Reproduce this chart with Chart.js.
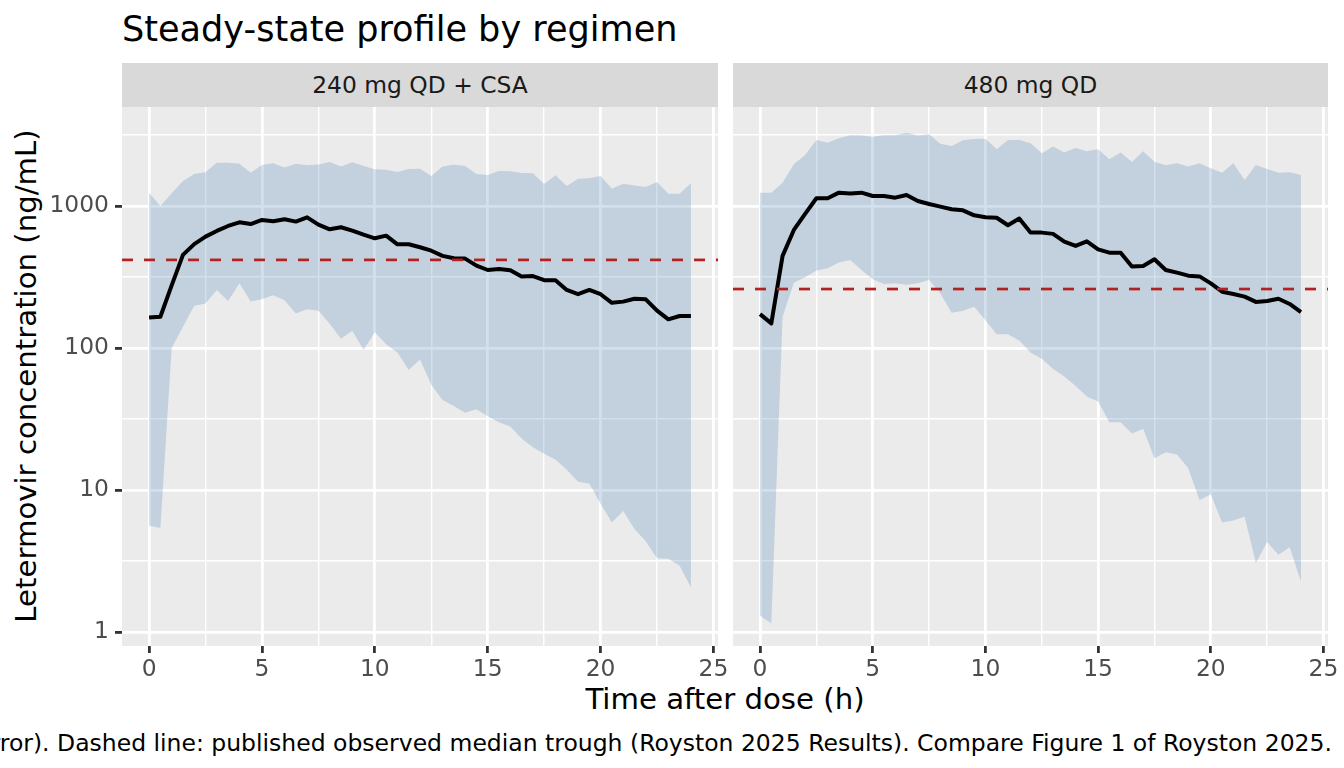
<!DOCTYPE html>
<html>
<head>
<meta charset="utf-8">
<script src="https://cdn.jsdelivr.net/npm/chart.js@4.4.1/dist/chart.umd.min.js"></script>
<style>
  html, body { margin: 0; padding: 0; background: #fff; }
  body { width: 1344px; height: 768px; position: relative; overflow: hidden; font-family: 'DejaVu Sans', sans-serif; }
  .abs { position: absolute; white-space: nowrap; }
  .strip { position: absolute; top: 63px; height: 44px; background: #D9D9D9; color: #1A1A1A;
           font-size: 23.4px; display: flex; align-items: center; justify-content: center; }
  canvas { position: absolute; }
</style>
</head>
<body>
<div class="abs" style="left:122px; top:11px; font-size:35.1px; line-height:35.1px; color:#000;">Steady-state profile by regimen</div>
<div class="strip" style="left:122px; width:596px;">240 mg QD + CSA</div>
<div class="strip" style="left:733px; width:595px;">480 mg QD</div>
<div class="abs" style="left:122px; width:1206px; top:685px; text-align:center; font-size:29.2px; line-height:29.2px; color:#000;">Time after dose (h)</div>
<div class="abs" style="left:27px; top:376px; font-size:29.2px; line-height:29.2px; color:#000; transform: translate(-50%, -50%) rotate(-90deg);">Letermovir concentration (ng/mL)</div>
<div class="abs" style="right:12px; top:732px; font-size:23.5px; line-height:23.5px; color:#000;">Shaded band: 90% prediction interval of simulated concentrations (between-subject variability and residual error). Dashed line: published observed median trough (Royston 2025 Results). Compare Figure 1 of Royston 2025.</div>

<canvas id="leftPanel" width="733" height="600" style="left:0px; top:107px;"></canvas>
<canvas id="rightPanel" width="611" height="600" style="left:733px; top:107px;"></canvas>

<script>
// Time grid (h)
const times = [0, 0.5, 1, 1.5, 2, 2.5, 3, 3.5, 4, 4.5,
               5, 5.5, 6, 6.5, 7, 7.5, 8, 8.5, 9, 9.5,
               10, 10.5, 11, 11.5, 12, 12.5, 13, 13.5, 14, 14.5,
               15, 15.5, 16, 16.5, 17, 17.5, 18, 18.5, 19, 19.5,
               20, 20.5, 21, 21.5, 22, 22.5, 23, 23.5, 24];

// 240 mg QD + CSA
const csaMedian = [164, 166, 276, 452, 539, 608, 667, 723, 767, 746,
                   797, 780, 806, 776, 832, 738, 685, 708, 670, 628,
                   592, 618, 537, 537, 512, 484, 445, 428, 426, 380,
                   354, 360, 352, 318, 321, 300, 300, 256, 239, 256,
                   239, 208, 212, 222, 220, 183, 159, 168, 168];
const csaUpper = [1241, 1000, 1228, 1500, 1680, 1727, 2018, 2018, 1986, 1717,
                  1945, 1996, 1863, 1986, 1935, 1960, 2040, 1893, 2030, 1910,
                  1812, 1800, 1734, 1820, 1830, 1627, 1893, 1954, 1910, 1680,
                  1650, 1763, 1755, 1708, 1700, 1430, 1645, 1383, 1557, 1565,
                  1627, 1324, 1435, 1395, 1360, 1476, 1221, 1221, 1445];
const csaLower = [5.6, 5.4, 100, 141, 198, 206, 256, 214, 285, 212,
                  220, 235, 217, 175, 187, 183, 148, 116, 132, 97,
                  129, 106, 93, 70, 83, 55, 43, 39, 35, 37,
                  33, 30, 28, 23, 20, 18, 16.4, 13.9, 11.4, 11.1,
                  8.0, 5.9, 7.1, 5.3, 4.35, 3.3, 3.27, 2.93, 2.06];
const csaTrough = 417;

// 480 mg QD
const qdMedian = [173, 149, 445, 678, 879, 1133, 1133, 1241, 1225, 1241,
                  1176, 1176, 1144, 1195, 1084, 1033, 990, 948, 932, 859,
                  832, 826, 731, 815, 649, 649, 636, 561, 523, 564,
                  495, 469, 469, 374, 378, 421, 354, 339, 323, 319,
                  285, 249, 240, 230, 211, 214, 222, 204, 179];
const qdUpper = [1241, 1241, 1459, 1965, 2285, 2917, 2791, 3000, 3148, 3130,
                 3077, 3148, 3148, 3283, 3130, 3200, 2748, 2648, 2904, 2960,
                 2975, 2507, 2917, 2917, 2762, 2350, 2618, 2380, 2560, 2425,
                 2507, 2134, 2380, 2040, 2425, 2050, 1935, 2000, 1893, 2000,
                 1840, 1717, 2000, 1524, 1945, 1820, 1717, 1730, 1653];
const qdLower = [1.30, 1.15, 166, 288, 315, 351, 364, 399, 417, 354,
                 305, 282, 285, 279, 285, 301, 243, 177, 183, 195,
                 157, 125, 125, 113, 93, 84, 71, 63, 54, 45.5,
                 42, 30, 30, 25, 27, 16.7, 18.4, 17.8, 14.2, 8.5,
                 9.3, 5.9, 6.1, 6.5, 3.06, 4.3, 3.5, 3.95, 2.27];
const qdTrough = 260;

// Axis ticks
const xTicks = [0, 2.5, 5, 7.5, 10, 12.5, 15, 17.5, 20, 22.5, 25];
const xLabels = [0, 5, 10, 15, 20, 25];
const yTicks = [1, 3.1623, 10, 31.623, 100, 316.23, 1000, 3162.3];
const yLabels = [1, 10, 100, 1000];

const X_MIN = -1.2, X_MAX = 25.2;
const Y_MIN = 0.796, Y_MAX = 4977;

const panelBg = {
  id: 'panelBg',
  beforeDraw(chart) {
    const { ctx, chartArea: a } = chart;
    ctx.save();
    ctx.fillStyle = '#EBEBEB';
    ctx.fillRect(a.left, a.top, a.right - a.left, a.bottom - a.top);
    ctx.restore();
  }
};

function pts(ys) {
  return times.map((t, i) => ({ x: t, y: ys[i] }));
}

function noPad(scale) {
  scale.paddingTop = 0;
  scale.paddingBottom = 0;
  scale.paddingLeft = 0;
  scale.paddingRight = 0;
}

function makePanel(id, median, lower, upper, trough, showY, padRight) {
  const tickFont = { family: 'DejaVu Sans', size: 23.4 };
  return new Chart(document.getElementById(id), {
    type: 'line',
    data: {
      datasets: [
        { data: pts(lower), borderWidth: 0, borderColor: 'rgba(0,0,0,0)', pointRadius: 0,
          fill: false, tension: 0, order: 3 },
        { data: pts(upper), borderWidth: 0, borderColor: 'rgba(0,0,0,0)', pointRadius: 0,
          fill: '-1', backgroundColor: 'rgba(70,130,180,0.25)', tension: 0, order: 2 },
        { data: pts(median), borderColor: '#000000', borderWidth: 4, pointRadius: 0,
          borderJoinStyle: 'round', fill: false, tension: 0, order: 1 },
        { data: [{ x: X_MIN, y: trough }, { x: X_MAX, y: trough }], borderColor: '#B22222',
          borderWidth: 2.7, borderDash: [11, 11], pointRadius: 0, fill: false, order: 0 }
      ]
    },
    options: {
      responsive: false,
      animation: false,
      layout: { padding: { left: 0, right: padRight, top: 0, bottom: 0 } },
      plugins: { legend: { display: false }, tooltip: { enabled: false } },
      scales: {
        x: {
          type: 'linear',
          min: X_MIN,
          max: X_MAX,
          afterBuildTicks: (scale) => { scale.ticks = xTicks.map(v => ({ value: v })); },
          afterFit: (scale) => { scale.height = 61; noPad(scale); },
          border: { display: false },
          grid: {
            color: '#FFFFFF',
            lineWidth: (c) => (c.tick && xLabels.includes(c.tick.value)) ? 2.8 : 1.4,
            tickColor: (c) => (c.tick && xLabels.includes(c.tick.value)) ? '#333333' : 'rgba(0,0,0,0)',
            tickWidth: 2.8,
            tickLength: 7
          },
          ticks: {
            autoSkip: false,
            maxRotation: 0,
            padding: 3,
            color: '#4D4D4D',
            font: tickFont,
            callback: (v) => xLabels.includes(v) ? String(v) : ''
          }
        },
        y: {
          type: 'logarithmic',
          min: Y_MIN,
          max: Y_MAX,
          afterBuildTicks: (scale) => { scale.ticks = yTicks.map(v => ({ value: v })); },
          afterFit: (scale) => { scale.width = showY ? 122 : 0; noPad(scale); },
          border: { display: false },
          grid: {
            color: '#FFFFFF',
            lineWidth: (c) => (c.tick && yLabels.includes(c.tick.value)) ? 2.8 : 1.4,
            drawTicks: showY,
            tickColor: (c) => (showY && c.tick && yLabels.includes(c.tick.value)) ? '#333333' : 'rgba(0,0,0,0)',
            tickWidth: 2.8,
            tickLength: 7
          },
          ticks: {
            display: showY,
            autoSkip: false,
            padding: 6,
            color: '#4D4D4D',
            font: tickFont,
            callback: (v) => yLabels.includes(v) ? String(v) : ''
          }
        }
      }
    },
    plugins: [panelBg]
  });
}

makePanel('leftPanel', csaMedian, csaLower, csaUpper, csaTrough, true, 15);
makePanel('rightPanel', qdMedian, qdLower, qdUpper, qdTrough, false, 16);
</script>
</body>
</html>
